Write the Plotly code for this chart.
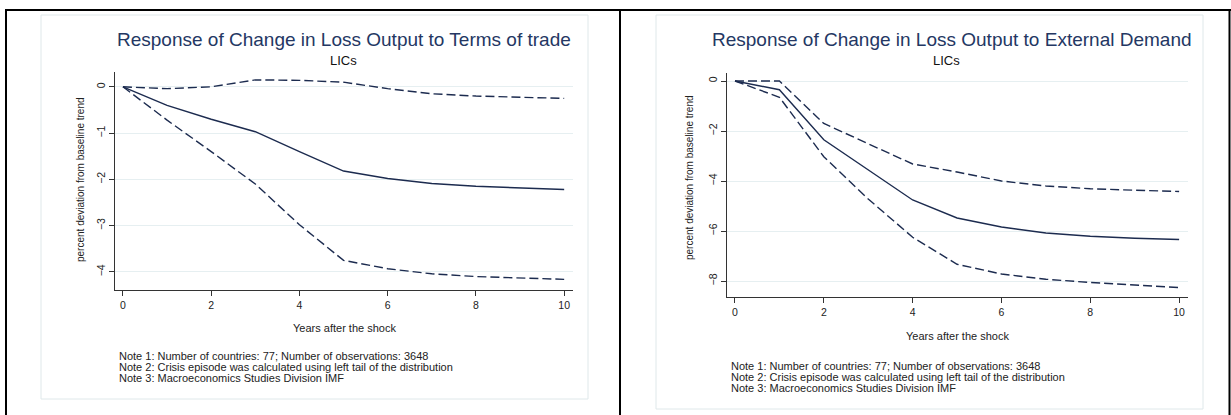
import plotly.graph_objects as go

W, H = 1231, 415

years = [0, 1, 2, 3, 4, 5, 6, 7, 8, 9, 10]

# Left panel: Terms of trade
tot_irf = [0, -0.40, -0.70, -0.97, -1.40, -1.82, -1.98, -2.09, -2.15, -2.19, -2.22]
tot_upper = [0, -0.04, 0.00, 0.15, 0.14, 0.10, -0.04, -0.15, -0.20, -0.22, -0.25]
tot_lower = [0, -0.72, -1.40, -2.10, -2.98, -3.75, -3.93, -4.04, -4.10, -4.13, -4.16]

# Right panel: External demand
ed_irf = [0, -0.35, -2.35, -3.55, -4.76, -5.48, -5.84, -6.08, -6.21, -6.29, -6.34]
ed_upper = [0, 0.00, -1.70, -2.50, -3.32, -3.64, -4.00, -4.20, -4.31, -4.37, -4.42]
ed_lower = [0, -0.65, -3.03, -4.72, -6.25, -7.33, -7.72, -7.93, -8.06, -8.17, -8.26]

left_yticks = [0, -1, -2, -3, -4]
right_yticks = [0, -2, -4, -6, -8]
xticks = [0, 2, 4, 6, 8, 10]

titles = ["Response of Change in Loss Output to Terms of trade",
          "Response of Change in Loss Output to External Demand"]
subtitle = "LICs"
ytitle = "percent deviation from baseline trend"
xtitle = "Years after the shock"
notes = ["Note 1: Number of countries: 77; Number of observations: 3648",
         "Note 2: Crisis episode was calculated using left tail of the distribution",
         "Note 3: Macroeconomics Studies Division IMF"]

FONT = "Arial, Liberation Sans, sans-serif"
LINE = "#1c2b4f"
TITLE_C = "#243763"
GRID = "#e6eff1"
FRAME = "#dfe8ea"
AX = "#333333"


def px(x):
    return x / W


def py(y):
    return 1 - y / H


fig = go.Figure()

panels = [
    dict(x="x", y="y", irf=tot_irf, up=tot_upper, lo=tot_lower,
         xdom=(115, 573), ydom=(72, 290), yr=[-4.39, 0.32], yt=left_yticks),
    dict(x="x2", y="y2", irf=ed_irf, up=ed_upper, lo=ed_lower,
         xdom=(727, 1188), ydom=(73, 297), yr=[-8.64, 0.32], yt=right_yticks),
]

for p in panels:
    for vals, dash in ((p["up"], "9px,4px"), (p["lo"], "9px,4px"), (p["irf"], "solid")):
        fig.add_trace(go.Scatter(x=years, y=vals, mode="lines", xaxis=p["x"], yaxis=p["y"],
                                 line=dict(color=LINE, width=1.4, dash=dash),
                                 showlegend=False, hoverinfo="skip"))

for i, p in enumerate(panels):
    sx = "" if i == 0 else "2"
    fig.layout["xaxis" + sx] = dict(
        domain=[px(p["xdom"][0]), px(p["xdom"][1])], range=[-0.18, 10.2],
        tickvals=xticks, ticks="outside", ticklen=5, tickcolor=AX, tickwidth=1,
        showline=True, linecolor=AX, linewidth=1.3, showgrid=False, zeroline=False,
        anchor="y" + sx, tickfont=dict(family=FONT, size=10.5, color="#222"))
    fig.layout["yaxis" + sx] = dict(
        domain=[py(p["ydom"][1]), py(p["ydom"][0])], range=p["yr"],
        tickvals=p["yt"], ticks="outside", ticklen=5, tickcolor=AX, tickwidth=1,
        showline=True, linecolor=AX, linewidth=1.3, showgrid=True, gridcolor=GRID,
        gridwidth=1, zeroline=False, tickangle=-90, anchor="x" + sx,
        tickfont=dict(family=FONT, size=10.5, color="#222"))

shapes = []
# light graph-region frames
shapes.append(dict(type="rect", xref="paper", yref="paper", x0=px(41), x1=px(588),
                   y0=py(399), y1=py(15), line=dict(color=FRAME, width=1), layer="below"))
shapes.append(dict(type="rect", xref="paper", yref="paper", x0=px(656), x1=px(1203),
                   y0=py(409), y1=py(15), line=dict(color=FRAME, width=1), layer="below"))
# black table borders
for x in (6, 620, 1229.5):
    shapes.append(dict(type="line", xref="paper", yref="paper", x0=px(x), x1=px(x),
                       y0=py(415), y1=py(9), line=dict(color="black", width=2)))
shapes.append(dict(type="line", xref="paper", yref="paper", x0=px(5), x1=px(1231),
                   y0=py(10), y1=py(10), line=dict(color="black", width=2)))
fig.update_layout(shapes=shapes)

ann = []
layout_txt = [
    dict(tx=344, ty=39, sx=343, sy=60, yx=80, yy=179, xx=344, xy=328, nx=117, ny=356),
    dict(tx=952, ty=39, sx=946, sy=60, yx=689, yy=178, xx=957, xy=336, nx=729, ny=366),
]
for i, t in enumerate(layout_txt):
    ann.append(dict(x=px(t["tx"]), y=py(t["ty"]), text=titles[i], showarrow=False,
                    xref="paper", yref="paper", xanchor="center", yanchor="middle",
                    font=dict(family=FONT, size=19, color=TITLE_C)))
    ann.append(dict(x=px(t["sx"]), y=py(t["sy"]), text=subtitle, showarrow=False,
                    xref="paper", yref="paper", xanchor="center", yanchor="middle",
                    font=dict(family=FONT, size=13, color="#111")))
    ann.append(dict(x=px(t["yx"]), y=py(t["yy"]), text=ytitle, showarrow=False, textangle=-90,
                    xref="paper", yref="paper", xanchor="center", yanchor="middle",
                    font=dict(family=FONT, size=10, color="#222")))
    ann.append(dict(x=px(t["xx"]), y=py(t["xy"]), text=xtitle, showarrow=False,
                    xref="paper", yref="paper", xanchor="center", yanchor="middle",
                    font=dict(family=FONT, size=11, color="#222")))
    for k, n in enumerate(notes):
        ann.append(dict(x=px(t["nx"]), y=py(t["ny"] + 11 * k), text=n, showarrow=False,
                        xref="paper", yref="paper", xanchor="left", yanchor="middle",
                        font=dict(family=FONT, size=11, color="#222")))
fig.update_layout(annotations=ann)

fig.update_layout(width=W, height=H, margin=dict(l=0, r=0, t=0, b=0),
                  paper_bgcolor="white", plot_bgcolor="white")

fig.write_html("out.html", config={"displayModeBar": False},
               post_script="document.body.style.margin='0px';document.body.style.overflow='hidden';")
